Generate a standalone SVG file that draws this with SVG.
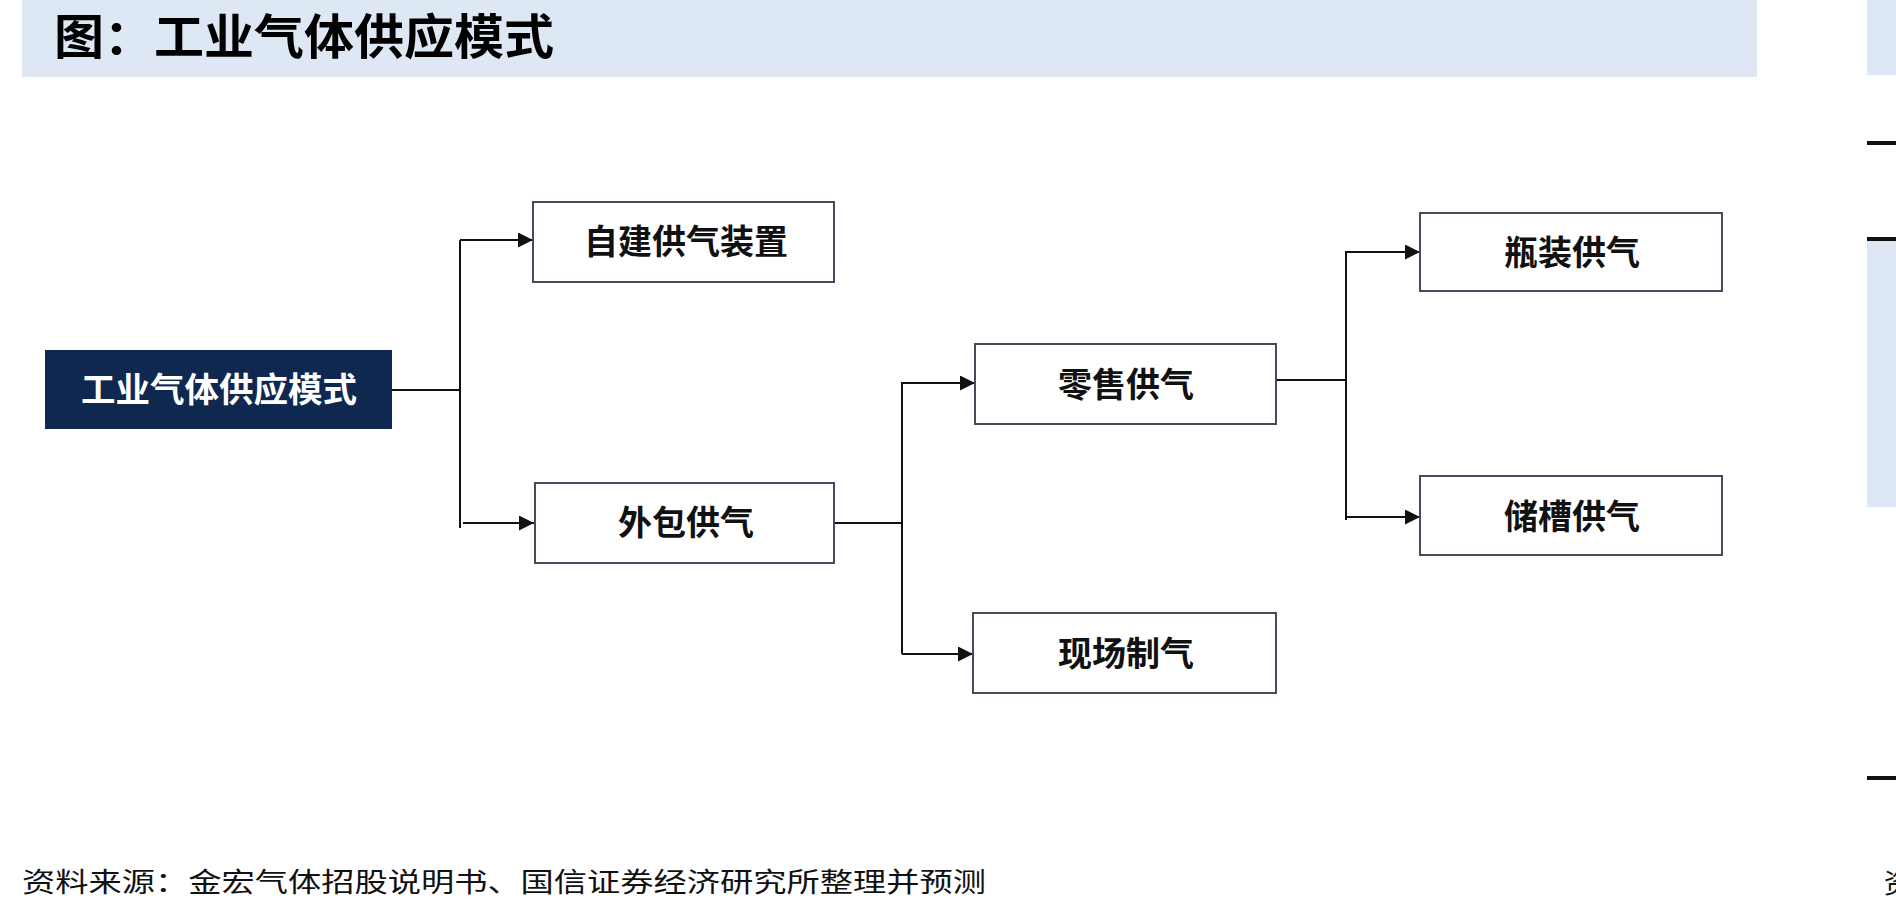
<svg xmlns="http://www.w3.org/2000/svg" width="1896" height="913" viewBox="0 0 1896 913">
<style>
.box{fill:#ffffff;stroke:#474a5a;stroke-width:2}
.lbl{font-family:"Noto Sans CJK SC","Noto Sans CJK JP",sans-serif;font-weight:bold;font-size:34px;fill:#111;text-anchor:middle}
.conn{fill:none;stroke:#111;stroke-width:2}
.arr{fill:none;stroke:#111;stroke-width:2;marker-end:url(#ah)}
</style>
<defs>
<marker id="ah" viewBox="0 0 15 15" refX="15" refY="7.5" markerWidth="15" markerHeight="15" markerUnits="userSpaceOnUse" orient="auto">
<path d="M0,0 L15,7.5 L0,15 Z" fill="#111"/>
</marker>
</defs>
<rect width="1896" height="913" fill="#ffffff"/>
<g id="title">
<rect x="22" y="0" width="1735" height="77" fill="#dde8f4"/>
<text x="54" y="54" font-family="'Noto Sans CJK SC','Noto Sans CJK JP',sans-serif" font-weight="bold" font-size="48" fill="#000" textLength="500" lengthAdjust="spacingAndGlyphs">图：工业气体供应模式</text>
</g>
<g id="next-page">
<rect x="1867" y="0" width="29" height="75" fill="#dde8f4"/>
<rect x="1867" y="141" width="29" height="4" fill="#111"/>
<rect x="1867" y="240" width="29" height="267" fill="#dde8f4"/>
<rect x="1867" y="237" width="29" height="4" fill="#111"/>
<rect x="1867" y="776" width="29" height="4" fill="#111"/>
<text x="1884" y="893" font-family="'Noto Sans CJK SC',sans-serif" font-size="27" fill="#111">资</text>
</g>
<g id="connectors">
<polyline class="conn" points="392,390 460,390"/>
<polyline class="conn" points="460,240 460,528"/>
<polyline class="arr" points="460,240 533,240"/>
<polyline class="arr" points="463,523 534,523"/>
<polyline class="conn" points="834,523 902,523"/>
<polyline class="conn" points="902,382 902,654"/>
<polyline class="arr" points="902,383 975,383"/>
<polyline class="arr" points="902,654 973,654"/>
<polyline class="conn" points="1276,380 1346,380"/>
<polyline class="conn" points="1346,251 1346,520"/>
<polyline class="arr" points="1346,252 1420,252"/>
<polyline class="arr" points="1346,517 1420,517"/>
</g>
<g id="root">
<rect x="45" y="350" width="347" height="79" fill="#0f2850"/>
<text x="219" y="402" font-family="'Noto Sans CJK SC','Noto Sans CJK JP',sans-serif" font-weight="bold" font-size="34" fill="#ffffff" text-anchor="middle" textLength="276" lengthAdjust="spacingAndGlyphs">工业气体供应模式</text>
</g>
<g id="n-self">
<rect class="box" x="533" y="202" width="301" height="80"/>
<text class="lbl" x="686" y="254">自建供气装置</text>
</g>
<g id="n-outsource">
<rect class="box" x="535" y="483" width="299" height="80"/>
<text class="lbl" x="686" y="535">外包供气</text>
</g>
<g id="n-retail">
<rect class="box" x="975" y="344" width="301" height="80"/>
<text class="lbl" x="1126" y="397">零售供气</text>
</g>
<g id="n-onsite">
<rect class="box" x="973" y="613" width="303" height="80"/>
<text class="lbl" x="1126" y="666">现场制气</text>
</g>
<g id="n-bottle">
<rect class="box" x="1420" y="213" width="302" height="78"/>
<text class="lbl" x="1572" y="265">瓶装供气</text>
</g>
<g id="n-tank">
<rect class="box" x="1420" y="476" width="302" height="79"/>
<text class="lbl" x="1572" y="529">储槽供气</text>
</g>
<g id="footer">
<text x="22" y="892" font-family="'Noto Sans CJK SC','Noto Sans CJK JP',sans-serif" font-size="27" fill="#111" textLength="964" lengthAdjust="spacingAndGlyphs">资料来源：金宏气体招股说明书、国信证券经济研究所整理并预测</text>
</g>
</svg>
